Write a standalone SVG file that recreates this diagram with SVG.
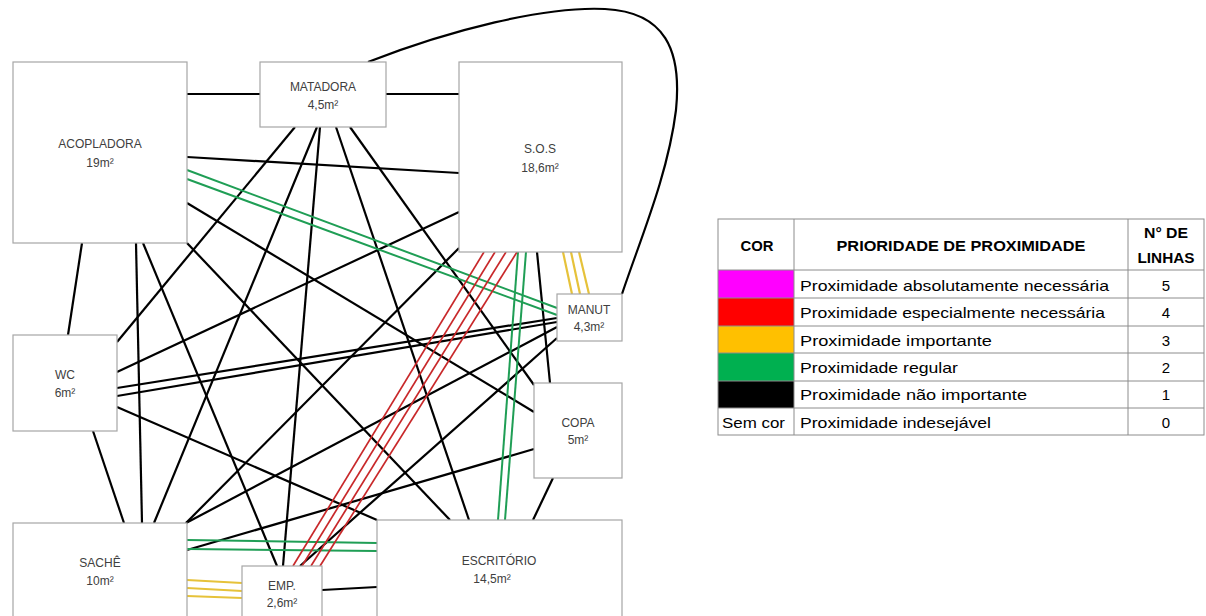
<svg xmlns="http://www.w3.org/2000/svg" width="1206" height="616" viewBox="0 0 1206 616">
<style>
.k{stroke:#000;stroke-width:2.2;fill:none}
.g{stroke:#1f9e55;stroke-width:2;fill:none}
.r{stroke:#c8282a;stroke-width:1.7;fill:none}
.y{stroke:#e6c23a;stroke-width:2.2;fill:none}
.box{fill:#fff;stroke:#a6a6a6;stroke-width:1.2}
.lbl{font-family:"Liberation Sans",Arial,sans-serif;font-size:12px;fill:#404040;text-anchor:middle}
.tb{font-family:"Liberation Sans",Arial,sans-serif;font-size:15px;fill:#000}
.th{font-family:"Liberation Sans",Arial,sans-serif;font-size:15px;font-weight:bold;fill:#000;text-anchor:middle}
.cell{fill:none;stroke:#8c8c8c;stroke-width:1}
</style>
<rect width="1206" height="616" fill="#fff"/>
<g id="connectors">
<path class="k" d="M368,62 C450,30 545,6 605,9 C665,12 682,50 676,110 C668,175 640,240 622,294"/>
<line class="k" x1="187" y1="94" x2="260" y2="94"/>
<line class="k" x1="386" y1="94" x2="459" y2="94"/>
<line class="k" x1="187" y1="157" x2="459" y2="173"/>
<line class="k" x1="82" y1="243" x2="68" y2="335"/>
<line class="k" x1="136" y1="243" x2="142" y2="523"/>
<line class="k" x1="143" y1="243" x2="277" y2="566"/>
<line class="k" x1="187" y1="203" x2="534" y2="412"/>
<line class="k" x1="187" y1="243" x2="450" y2="520"/>
<line class="k" x1="295" y1="127" x2="117" y2="342"/>
<line class="k" x1="317" y1="127" x2="154" y2="523"/>
<line class="k" x1="320" y1="127" x2="283" y2="566"/>
<line class="k" x1="336" y1="127" x2="469" y2="520"/>
<line class="k" x1="350" y1="127" x2="534" y2="385"/>
<line class="k" x1="459" y1="212" x2="117" y2="372"/>
<line class="k" x1="537" y1="252" x2="550" y2="383"/>
<line class="k" x1="459" y1="248" x2="186" y2="523"/>
<line class="k" x1="117" y1="388" x2="557" y2="318"/>
<line class="k" x1="117" y1="396" x2="557" y2="322"/>
<line class="k" x1="93" y1="431" x2="124" y2="523"/>
<line class="k" x1="117" y1="407" x2="377" y2="520"/>
<line class="k" x1="557" y1="327" x2="186" y2="523"/>
<line class="k" x1="557" y1="338" x2="300" y2="566"/>
<line class="k" x1="534" y1="449" x2="187" y2="550"/>
<line class="k" x1="553" y1="478" x2="533" y2="520"/>
<line class="k" x1="322" y1="590" x2="377" y2="587"/>
<line class="g" x1="187" y1="170" x2="557" y2="308"/>
<line class="g" x1="187" y1="179" x2="557" y2="315"/>
<line class="g" x1="518" y1="252" x2="498" y2="520"/>
<line class="g" x1="526" y1="252" x2="505" y2="520"/>
<line class="g" x1="187" y1="540" x2="377" y2="543"/>
<line class="g" x1="187" y1="549" x2="377" y2="551"/>
<line class="r" x1="484" y1="252" x2="293" y2="566"/>
<line class="r" x1="495" y1="252" x2="302" y2="566"/>
<line class="r" x1="506" y1="252" x2="311" y2="566"/>
<line class="r" x1="517" y1="252" x2="320" y2="566"/>
<line class="y" x1="563" y1="252" x2="572" y2="294"/>
<line class="y" x1="571" y1="252" x2="580" y2="294"/>
<line class="y" x1="579" y1="252" x2="589" y2="294"/>
<line class="y" x1="187" y1="580" x2="242" y2="583"/>
<line class="y" x1="187" y1="588" x2="242" y2="591"/>
<line class="y" x1="187" y1="596" x2="242" y2="598"/>
</g>
<g id="acopladora"><rect class="box" x="13" y="62" width="174" height="181"/><text class="lbl" x="100" y="148">ACOPLADORA</text><text class="lbl" x="100" y="167">19m²</text></g>
<g id="matadora"><rect class="box" x="260" y="62" width="126" height="65"/><text class="lbl" x="323" y="91">MATADORA</text><text class="lbl" x="323" y="109">4,5m²</text></g>
<g id="sos"><rect class="box" x="459" y="62" width="163" height="190"/><text class="lbl" x="540" y="153">S.O.S</text><text class="lbl" x="540" y="172">18,6m²</text></g>
<g id="wc"><rect class="box" x="13" y="335" width="104" height="96"/><text class="lbl" x="65" y="379">WC</text><text class="lbl" x="65" y="397">6m²</text></g>
<g id="manut"><rect class="box" x="557" y="294" width="65" height="47"/><text class="lbl" x="589" y="314">MANUT</text><text class="lbl" x="589" y="331">4,3m²</text></g>
<g id="copa"><rect class="box" x="534" y="383" width="88" height="95"/><text class="lbl" x="578" y="427">COPA</text><text class="lbl" x="578" y="444">5m²</text></g>
<g id="sache"><rect class="box" x="13" y="523" width="174" height="100"/><text class="lbl" x="100" y="567">SACHÊ</text><text class="lbl" x="100" y="585">10m²</text></g>
<g id="emp"><rect class="box" x="242" y="566" width="80" height="60"/><text class="lbl" x="282" y="590">EMP.</text><text class="lbl" x="282" y="607">2,6m²</text></g>
<g id="escritorio"><rect class="box" x="377" y="520" width="245" height="100"/><text class="lbl" x="499" y="565">ESCRITÓRIO</text><text class="lbl" x="492" y="583">14,5m²</text></g>
<g id="legend">
<rect x="718" y="270" width="76" height="28" fill="#ff00ff"/>
<rect x="718" y="298" width="76" height="28" fill="#ff0000"/>
<rect x="718" y="326" width="76" height="27" fill="#ffc000"/>
<rect x="718" y="353" width="76" height="28" fill="#00b050"/>
<rect x="718" y="381" width="76" height="27" fill="#000"/>
<rect class="cell" x="718" y="219" width="486" height="216"/>
<path class="cell" d="M794,219V435M1128,219V435M718,270H1204M718,298H1204M718,326H1204M718,353H1204M718,381H1204M718,408H1204"/>
<text class="th" x="757" y="251" textLength="33" lengthAdjust="spacingAndGlyphs">COR</text>
<text class="th" x="961" y="251" textLength="249" lengthAdjust="spacingAndGlyphs">PRIORIDADE DE PROXIMIDADE</text>
<text class="th" x="1166" y="238" textLength="44" lengthAdjust="spacingAndGlyphs">N° DE</text>
<text class="th" x="1166" y="263" textLength="57" lengthAdjust="spacingAndGlyphs">LINHAS</text>
<text class="tb" x="800" y="291" textLength="309" lengthAdjust="spacingAndGlyphs">Proximidade absolutamente necessária</text>
<text class="tb" x="800" y="318" textLength="305" lengthAdjust="spacingAndGlyphs">Proximidade especialmente necessária</text>
<text class="tb" x="800" y="346" textLength="192" lengthAdjust="spacingAndGlyphs">Proximidade importante</text>
<text class="tb" x="800" y="373" textLength="158" lengthAdjust="spacingAndGlyphs">Proximidade regular</text>
<text class="tb" x="800" y="400" textLength="227" lengthAdjust="spacingAndGlyphs">Proximidade não importante</text>
<text class="tb" x="722" y="428" textLength="63" lengthAdjust="spacingAndGlyphs">Sem cor</text>
<text class="tb" x="800" y="428" textLength="191" lengthAdjust="spacingAndGlyphs">Proximidade indesejável</text>
<text class="tb" x="1166" y="291" text-anchor="middle">5</text>
<text class="tb" x="1166" y="318" text-anchor="middle">4</text>
<text class="tb" x="1166" y="346" text-anchor="middle">3</text>
<text class="tb" x="1166" y="373" text-anchor="middle">2</text>
<text class="tb" x="1166" y="400" text-anchor="middle">1</text>
<text class="tb" x="1166" y="428" text-anchor="middle">0</text>
</g>
</svg>
